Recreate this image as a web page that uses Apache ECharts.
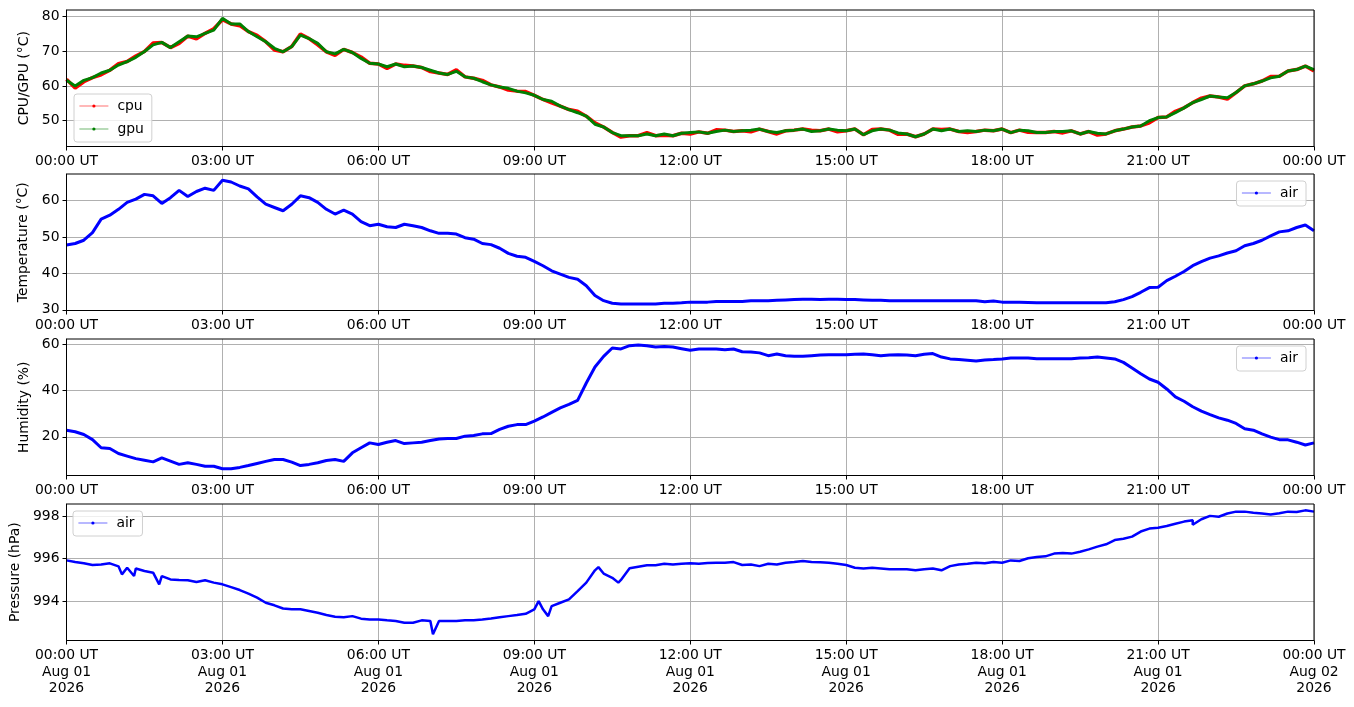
<!DOCTYPE html>
<html>
<head>
<meta charset="utf-8">
<script src="https://cdn.jsdelivr.net/npm/echarts@6/dist/echarts.min.js"></script>
<style>
html, body { margin: 0; padding: 0; background: #fff; }
#c { width: 1354px; height: 707px; }
</style>
</head>
<body>
<div id="c"></div>
<script>
// sample start (UTC) and spacing of the readings below
var T0 = Date.UTC(2026, 7, 1);
var STEP_MIN = 10;

// one row per hour, 10 min apart
var cpu = [
  61.9,59.4,61.2,62.4,63.2,64.5,
  66.4,67.0,68.6,69.9,72.3,72.5,
  71.0,72.2,74.3,73.5,75.1,76.4,
  79.0,77.8,77.3,75.6,74.5,72.7,
  70.3,69.8,71.3,74.9,73.6,71.8,
  69.8,68.8,70.5,69.6,68.3,66.5,
  66.3,65.0,66.3,65.9,65.7,65.3,
  64.1,63.7,63.3,64.6,62.6,62.2,
  61.6,60.3,59.7,58.8,58.5,58.4,
  57.3,56.1,55.1,54.2,53.2,52.7,
  51.3,49.4,48.2,46.6,45.3,45.7,
  45.7,46.6,45.7,45.8,45.7,46.4,
  46.2,46.8,46.4,47.4,47.3,46.9,
  47.1,46.8,47.6,46.9,46.2,47.1,
  47.3,47.6,47.3,47.1,47.6,46.8,
  47.1,47.6,46.0,47.5,47.6,47.3,
  46.1,46.2,45.4,46.2,47.6,47.5,
  47.6,46.9,46.6,46.9,47.3,47.1,
  47.6,46.6,47.3,46.7,46.6,46.6,
  46.9,46.5,47.1,46.2,46.9,45.9,
  46.2,47.1,47.6,48.2,48.5,49.4,
  50.9,51.1,52.7,53.7,55.2,56.5,
  57.1,56.8,56.2,58.1,60.0,60.6,
  61.4,62.7,62.8,64.3,64.7,65.7,
  64.3
];
var gpu = [
  61.6,60.0,61.6,62.4,63.7,64.5,
  66.0,67.0,68.2,69.9,71.8,72.5,
  71.0,72.7,74.3,74.1,75.1,76.0,
  79.4,77.8,77.8,75.6,74.1,72.7,
  70.8,69.8,71.3,74.6,73.6,72.2,
  69.8,69.2,70.5,69.6,67.9,66.5,
  66.3,65.5,66.3,65.5,65.7,65.3,
  64.5,63.7,63.3,64.2,62.6,62.2,
  61.2,60.3,59.7,59.3,58.5,58.0,
  57.3,56.1,55.6,54.2,53.2,52.3,
  51.3,49.0,48.2,46.6,45.7,45.7,
  45.7,46.2,45.7,46.2,45.7,46.4,
  46.6,46.8,46.4,46.9,47.3,46.9,
  47.1,47.3,47.6,46.9,46.6,47.1,
  47.3,47.6,46.9,47.1,47.6,47.3,
  47.1,47.6,46.0,47.1,47.6,47.3,
  46.5,46.2,45.4,46.2,47.6,47.1,
  47.6,46.9,47.1,46.9,47.3,47.1,
  47.6,46.6,47.3,47.1,46.6,46.6,
  46.9,46.9,47.1,46.2,46.9,46.4,
  46.2,47.1,47.6,48.2,48.5,50.0,
  50.9,51.1,52.3,53.7,55.2,56.1,
  57.1,56.8,56.6,58.1,60.0,60.6,
  61.4,62.3,62.8,64.3,64.7,65.7,
  64.7
];
var temp = [
  47.8,48.2,49.1,51.2,54.9,56.0,
  57.6,59.5,60.4,61.7,61.3,59.2,
  60.8,62.8,61.1,62.5,63.4,62.8,
  65.6,65.1,64.0,63.2,61.0,59.0,
  58.1,57.2,59.0,61.3,60.8,59.5,
  57.6,56.3,57.4,56.3,54.2,53.1,
  53.5,52.8,52.6,53.5,53.1,52.6,
  51.7,51.0,51.0,50.8,49.8,49.4,
  48.2,47.9,46.9,45.5,44.7,44.4,
  43.3,42.1,40.7,39.8,38.9,38.4,
  36.6,33.9,32.5,31.8,31.6,31.6,
  31.6,31.6,31.6,31.8,31.8,31.9,
  32.1,32.1,32.1,32.3,32.3,32.3,
  32.3,32.5,32.5,32.5,32.6,32.7,
  32.8,32.9,32.9,32.8,32.9,32.9,
  32.8,32.8,32.7,32.6,32.6,32.5,
  32.5,32.5,32.5,32.5,32.5,32.5,
  32.5,32.5,32.5,32.5,32.2,32.4,
  32.1,32.1,32.1,32.0,31.9,31.9,
  31.9,31.9,31.9,31.9,31.9,31.9,
  31.9,32.2,32.8,33.6,34.8,36.1,
  36.2,38.0,39.2,40.5,42.1,43.2,
  44.2,44.8,45.6,46.2,47.6,48.2,
  49.1,50.3,51.4,51.7,52.6,53.3,
  51.7
];
var hum = [
  22.9,22.2,21.0,18.8,15.3,15.0,
  12.8,11.7,10.6,9.9,9.2,10.9,
  9.5,8.1,8.8,8.1,7.3,7.3,
  6.2,6.2,6.8,7.6,8.5,9.4,
  10.2,10.2,9.1,7.6,8.1,8.8,
  9.8,10.2,9.4,13.1,15.3,17.4,
  16.7,17.7,18.4,17.1,17.4,17.7,
  18.4,19.1,19.3,19.3,20.3,20.6,
  21.3,21.4,23.2,24.6,25.3,25.3,
  26.8,28.6,30.6,32.5,34.0,35.8,
  43.3,50.2,54.8,58.4,58.0,59.4,
  59.7,59.4,58.8,59.1,58.8,58.1,
  57.4,58.0,58.0,58.0,57.7,58.0,
  56.8,56.7,56.3,55.1,55.8,55.1,
  54.8,54.8,55.1,55.4,55.5,55.5,
  55.5,55.7,55.8,55.5,55.1,55.4,
  55.5,55.4,55.1,55.7,56.0,54.5,
  53.7,53.4,53.1,52.8,53.2,53.4,
  53.7,54.1,54.1,54.1,53.8,53.8,
  53.8,53.8,53.8,54.1,54.2,54.5,
  54.1,53.7,52.2,49.8,47.3,45.0,
  43.6,40.7,37.3,35.4,33.0,31.1,
  29.6,28.2,27.2,25.8,23.5,22.9,
  21.3,19.9,18.8,18.7,17.7,16.5,
  17.4
];
var pres = [
  995.92,995.84,995.78,995.70,995.73,995.78,
  995.64,995.57,995.54,995.42,995.34,995.18,
  995.02,994.99,994.98,994.90,994.98,994.87,
  994.79,994.66,994.52,994.35,994.16,993.92,
  993.80,993.65,993.61,993.61,993.53,993.45,
  993.34,993.26,993.24,993.29,993.17,993.13,
  993.13,993.09,993.06,992.98,992.98,993.09,
  993.06,993.06,993.06,993.06,993.09,993.10,
  993.13,993.18,993.24,993.29,993.34,993.40,
  993.61,993.61,993.76,993.92,994.08,994.47,
  994.87,995.45,995.30,995.10,995.00,995.55,
  995.62,995.69,995.69,995.76,995.73,995.76,
  995.78,995.76,995.80,995.81,995.81,995.84,
  995.70,995.73,995.65,995.76,995.73,995.81,
  995.84,995.89,995.84,995.83,995.81,995.76,
  995.70,995.57,995.54,995.57,995.54,995.50,
  995.50,995.50,995.45,995.50,995.54,995.45,
  995.65,995.73,995.76,995.81,995.78,995.84,
  995.81,995.92,995.89,996.02,996.08,996.11,
  996.24,996.27,996.24,996.33,996.44,996.57,
  996.68,996.88,996.94,997.04,997.28,997.42,
  997.46,997.54,997.65,997.75,997.81,997.86,
  998.02,997.98,998.13,998.22,998.22,998.17,
  998.13,998.09,998.14,998.22,998.20,998.28,
  998.22
];
// single off-grid pressure readings (spikes and dips), minutes after T0
var presSpikeMin = [64, 78, 107, 423, 545, 556, 614, 637, 1300];
var presSpike = [995.26, 995.18, 994.79, 992.43, 994.00, 993.29, 995.60, 994.87, 997.60];

var MON = ['Jan','Feb','Mar','Apr','May','Jun','Jul','Aug','Sep','Oct','Nov','Dec'];
var FONT = 'DejaVu Sans';
var FS = 13.9;

function pad(n) { return (n < 10 ? '0' : '') + n; }
function hhmm(v) {
  var d = new Date(v);
  return pad(d.getUTCHours()) + ':' + pad(d.getUTCMinutes()) + ' UT';
}
function fullDate(v) {
  var d = new Date(v);
  return hhmm(v) + '\n' + MON[d.getUTCMonth()] + ' ' + pad(d.getUTCDate()) + '\n' + d.getUTCFullYear();
}
function pairs(vals) {
  return vals.map(function (v, i) { return [T0 + i * STEP_MIN * 60000, v]; });
}
var presData = pairs(pres).concat(presSpikeMin.map(function (m, i) {
  return [T0 + m * 60000, presSpike[i]];
})).sort(function (a, b) { return a[0] - b[0]; });

var tops = [10, 174, 339, 504];
var H = 136.5;
var grids = tops.map(function (t) {
  return { left: 66.5, right: 40, top: t, height: H, show: true, z: 5,
           borderColor: '#000', borderWidth: 1, backgroundColor: 'transparent' };
});

var xAxes = tops.map(function (t, i) {
  return {
    type: 'value', gridIndex: i, min: T0, max: T0 + 86400000, interval: 10800000,
    axisLine: { show: true, onZero: false, lineStyle: { color: '#000', width: 1 } },
    axisTick: { show: true, length: 4, lineStyle: { color: '#000', width: 1 } },
    axisLabel: { formatter: i === 3 ? fullDate : hhmm, color: '#000', fontFamily: FONT,
                 fontSize: FS, margin: 7, lineHeight: 16.5 },
    splitLine: { show: true, lineStyle: { color: '#b0b0b0', width: 1 } }
  };
});

var yInfo = [
  { name: 'CPU/GPU (\u00b0C)', min: 42.6, max: 81.8, split: 4, ticks: [50, 60, 70, 80], gap: 34 },
  { name: 'Temperature (\u00b0C)', min: 29.8, max: 67.3, split: 4, ticks: [30, 40, 50, 60], gap: 36 },
  { name: 'Humidity (%)', min: 3.3, max: 62.3, split: 3, ticks: [20, 40, 60], gap: 34 },
  { name: 'Pressure (hPa)', min: 992.14, max: 998.58, split: 3, ticks: [994, 996, 998], gap: 41 }
];
var yAxes = yInfo.map(function (y, i) {
  return {
    type: 'value', gridIndex: i, min: y.min, max: y.max, splitNumber: y.split,
    name: y.name, nameLocation: 'middle', nameGap: y.gap,
    nameTextStyle: { color: '#000', fontFamily: FONT, fontSize: FS },
    axisLine: { show: true, onZero: false, lineStyle: { color: '#000', width: 1 } },
    axisTick: { show: true, length: 4, customValues: y.ticks, lineStyle: { color: '#000', width: 1 } },
    axisLabel: { customValues: y.ticks, color: '#000', fontFamily: FONT, fontSize: FS, margin: 7 },
    splitLine: { show: true, lineStyle: { color: '#b0b0b0', width: 1 } }
  };
});

function line(name, data, color, width, idx) {
  return {
    type: 'line', name: name, data: data, xAxisIndex: idx, yAxisIndex: idx,
    symbol: 'circle', symbolSize: 3, showSymbol: false,
    itemStyle: { color: color, borderWidth: 0 },
    lineStyle: { color: color, width: width },
    emphasis: { disabled: true }, animation: false
  };
}

function legendAt(pos, names) {
  return Object.assign({
    data: names, orient: 'vertical', itemWidth: 29, itemHeight: 4, itemGap: 9,
    padding: [5, 8, 6, 5], borderColor: '#d0d0d0', borderWidth: 1, borderRadius: 3,
    backgroundColor: 'rgba(255,255,255,0.8)', selectedMode: false,
    lineStyle: { width: 0.8, opacity: 0.7 },
    itemStyle: { borderWidth: 0 },
    textStyle: { color: '#000', fontFamily: FONT, fontSize: FS, padding: [0, 0, 0, 4] }
  }, pos);
}

var chart = echarts.init(document.getElementById('c'), null, { renderer: 'canvas' });
chart.setOption({
  backgroundColor: '#fff',
  animation: false,
  grid: grids,
  xAxis: xAxes,
  yAxis: yAxes,
  legend: [
    legendAt({ left: 74, top: 94 }, ['cpu', 'gpu']),
    legendAt({ right: 48, top: 181 }, ['air']),
    legendAt({ right: 48, top: 346 }, ['air']),
    legendAt({ left: 73, top: 511 }, ['air'])
  ],
  series: [
    line('cpu', pairs(cpu), '#ff0000', 3.5, 0),
    line('gpu', pairs(gpu), '#008000', 3, 0),
    line('air', pairs(temp), '#0000ff', 3, 1),
    line('air', pairs(hum), '#0000ff', 3, 2),
    line('air', presData, '#0000ff', 2.5, 3)
  ]
});
</script>
</body>
</html>
